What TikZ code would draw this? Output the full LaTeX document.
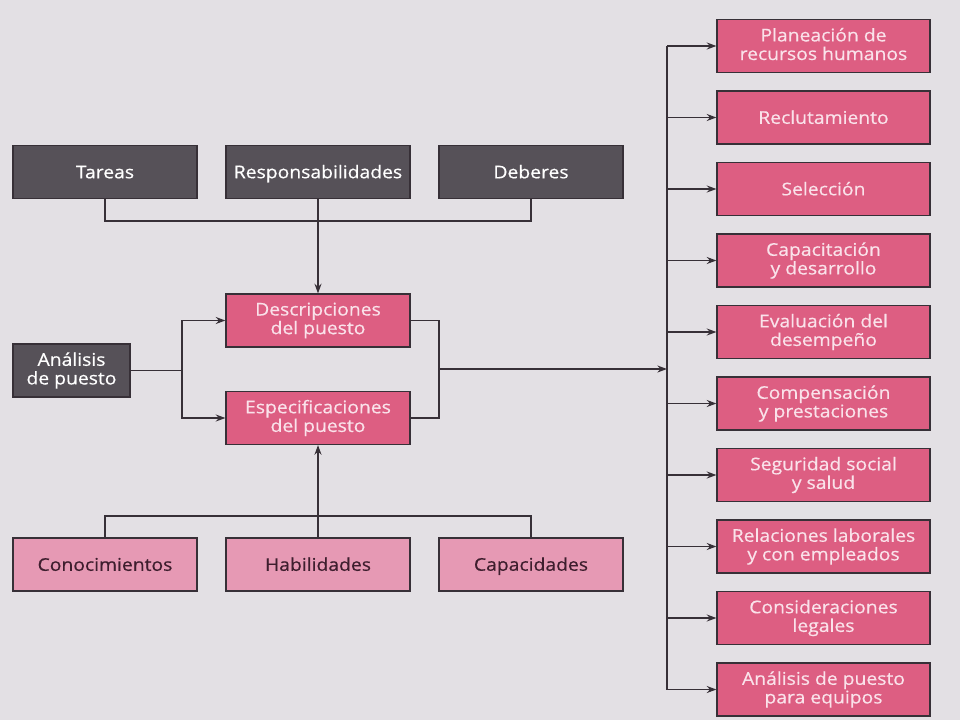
\documentclass[tikz,border=0pt]{standalone}
\usepackage{fontspec}
\setmainfont{Open Sans}[FakeStretch=1.1, FakeBold=0.5]
\usetikzlibrary{arrows.meta}
\definecolor{paper}{RGB}{227,224,228}
\definecolor{linecol}{RGB}{55,48,55}
\definecolor{darkfill}{RGB}{86,81,88}
\definecolor{pinkfill}{RGB}{221,94,130}
\definecolor{pinktext}{RGB}{250,226,234}
\definecolor{palefill}{RGB}{230,153,180}
\definecolor{paletext}{RGB}{62,30,46}
\newcommand{\boxstrut}{\rule[-0.23em]{0pt}{1.18em}}
\tikzset{>={Stealth[length=5.5pt,width=4pt]}}
\tikzset{
    box/.style = {draw = linecol, line width = 0.7pt, minimum width = 3.68cm, minimum height = 1.06cm, align = center, font = \fontsize{10}{10.6}\selectfont, inner sep = 1pt, execute at begin node = \boxstrut, execute at end node = \boxstrut},
    darkbox/.style = {box, fill = darkfill, text = white},
    pinkbox/.style = {box, fill = pinkfill, text = pinktext},
    palebox/.style = {box, fill = palefill, text = paletext},
    conn/.style = {draw = linecol, line width = 0.7pt}
}

\begin{document}
\begin{tikzpicture}[x=0.02cm, y=-0.02cm]
    \fill [color = paper] (0,0) rectangle (960,720);
    \node [darkbox] (tareas) at (105,172) {Tareas};
    \node [darkbox] (resp) at (318,172) {Responsabilidades};
    \node [darkbox] (deberes) at (531,172) {Deberes};
    \node [pinkbox] (desc) at (318,320.5) {Descripciones\\del puesto};
    \node [pinkbox] (espec) at (318,418) {Especificaciones\\del puesto};
    \node [darkbox, minimum width = 2.34cm] (analisis) at (71.5,370.5) {Análisis\\de puesto};
    \node [palebox] (conoc) at (105,564.5) {Conocimientos};
    \node [palebox] (habil) at (318,564.5) {Habilidades};
    \node [palebox] (capac) at (531,564.5) {Capacidades};
	\foreach \i/\txt in {0/{Planeación de\\recursos humanos}, 1/{Reclutamiento}, 2/{Selección}, 3/{Capacitación\\y desarrollo}, 4/{Evaluación del\\desempeño}, 5/{Compensación\\y prestaciones}, 6/{Seguridad social\\y salud}, 7/{Relaciones laborales\\y con empleados}, 8/{Consideraciones\\legales}, 9/{Análisis de puesto\\para equipos}}
	\node [pinkbox, minimum width = 4.26cm] (r\i) at (823.5,46+71.5*\i) {\txt};
    \coordinate (topbus) at (318,221);
    \coordinate (botbus) at (318,516);
    \coordinate (leftfork) at (182,370.5);
    \coordinate (rightfork) at (439,369);
    \coordinate (rightbus) at (667,369);
    \draw [conn] (tareas.south) |- (topbus) -| (deberes.south);
    \draw [conn, ->] (resp.south) -- (desc.north);
    \draw [conn] (conoc.north) |- (botbus) -| (capac.north);
    \draw [conn, ->] (habil.north) -- (espec.south);
    \draw [conn] (analisis.east) -- (leftfork);
    \draw [conn, ->] (leftfork) |- (desc.west);
    \draw [conn, ->] (leftfork) |- (espec.west);
    \draw [conn] (desc.east) -| (rightfork) |- (espec.east);
    \draw [conn, ->] (rightfork) -- (rightbus);
    \draw [conn] (r0.west -| rightbus) -- (r9.west -| rightbus);
	\foreach \i in {0,...,9}
	\draw [conn, ->] (r\i.west -| rightbus) -- (r\i.west);
\end{tikzpicture}
\end{document}
